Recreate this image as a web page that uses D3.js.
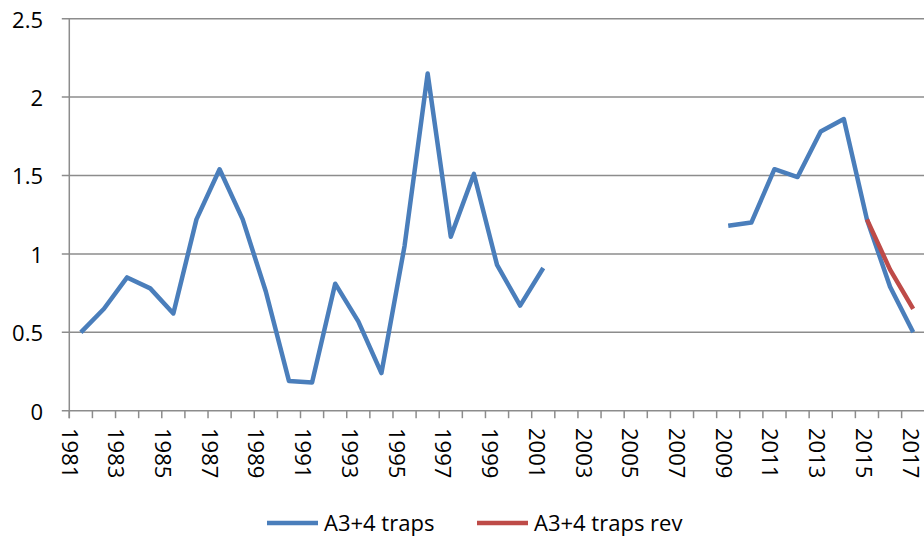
<!DOCTYPE html>
<meta charset="utf-8">
<style>
body { margin: 0; background: #fff; }
text { font-family: "Open Sans", sans-serif; font-size: 22px; fill: #000; }
.grid line { stroke: #8c8c8c; stroke-width: 1.5px; }
.line { fill: none; stroke-width: 4.5px; stroke-linejoin: round; }
</style>
<svg width="924" height="543"></svg>
<script src="https://cdn.jsdelivr.net/npm/d3@7/dist/d3.min.js"></script>
<script>
var years = d3.range(1981, 2018);
// A3+4 traps, null = no data
var traps = [0.50, 0.65, 0.85, 0.78, 0.62, 1.22, 1.54, 1.22, 0.76, 0.19,
             0.18, 0.81, 0.57, 0.24, 1.05, 2.15, 1.11, 1.51, 0.93, 0.67,
             0.91, null, null, null, null, null, null, null, 1.18, 1.20,
             1.54, 1.49, 1.78, 1.86, 1.22, 0.79, 0.50];
var revYears = [2015, 2016, 2017];
var trapsRev = [1.22, 0.90, 0.65];
var yTicks = [0, 0.5, 1, 1.5, 2, 2.5];
var seriesNames = ["A3+4 traps", "A3+4 traps rev"];
var colors = ["#4a7ebb", "#be4b48"];

var svg = d3.select("svg");
var plotLeft = 69.3, plotTop = 18.7, plotBottom = 410.7;

var x = d3.scaleBand()
    .domain(years)
    .range([plotLeft, plotLeft + years.length * 23.12]);
var y = d3.scaleLinear()
    .domain([0, 2.5])
    .range([plotBottom, plotTop]);
// rotated labels sit a bit left of the category centres
var labelX = d3.scaleLinear()
    .domain([1981, 2017])
    .range([69.5, 910.5]);

function cx(yr) { return x(yr) + x.bandwidth() / 2; }

// gridlines
svg.append("g")
    .attr("class", "grid")
  .selectAll("line")
  .data(yTicks)
  .enter().append("line")
    .attr("x1", plotLeft - 7.5)
    .attr("x2", 924)
    .attr("y1", function(d) { return y(d); })
    .attr("y2", function(d) { return y(d); });

// y axis line
svg.append("line")
    .attr("x1", plotLeft).attr("x2", plotLeft)
    .attr("y1", plotTop).attr("y2", plotBottom + 7.5)
    .attr("stroke", "#8c8c8c").attr("stroke-width", 1.5);

// x ticks at category boundaries
svg.append("g")
  .selectAll("line")
  .data(years)
  .enter().append("line")
    .attr("x1", function(d) { return x(d); })
    .attr("x2", function(d) { return x(d); })
    .attr("y1", plotBottom)
    .attr("y2", plotBottom + 7.5)
    .attr("stroke", "#8c8c8c").attr("stroke-width", 1.5);

// y labels
svg.append("g")
  .selectAll("text")
  .data(yTicks)
  .enter().append("text")
    .attr("x", 43)
    .attr("y", function(d) { return y(d) + 1; })
    .attr("dy", "0.36em")
    .attr("text-anchor", "end")
    .text(function(d) { return d; });

// x labels, rotated
svg.append("g")
  .selectAll("text")
  .data(years.filter(function(d) { return (d - 1981) % 2 === 0; }))
  .enter().append("text")
    .attr("transform", function(d) { return "translate(" + labelX(d) + "," + 428 + ") rotate(90)"; })
    .attr("dy", "0.36em")
    .text(function(d) { return d; });

var line = d3.line()
    .defined(function(d) { return d[1] !== null; })
    .x(function(d) { return cx(d[0]); })
    .y(function(d) { return y(d[1]); });

svg.append("path")
    .datum(years.map(function(d, i) { return [d, traps[i]]; }))
    .attr("class", "line")
    .attr("stroke", colors[0])
    .attr("d", line);

svg.append("path")
    .datum(revYears.map(function(d, i) { return [d, trapsRev[i]]; }))
    .attr("class", "line")
    .attr("stroke", colors[1])
    .attr("d", line);

// legend
var legendX = [267, 477];
var leg = svg.append("g")
  .selectAll("g")
  .data(seriesNames)
  .enter().append("g")
    .attr("transform", function(d, i) { return "translate(" + legendX[i] + ",523)"; });
leg.append("line")
    .attr("x1", 0).attr("x2", 51)
    .attr("stroke", function(d, i) { return colors[i]; })
    .attr("stroke-width", 4.5);
leg.append("text")
    .attr("x", 57)
    .attr("dy", "0.36em")
    .text(function(d) { return d; });
</script>
